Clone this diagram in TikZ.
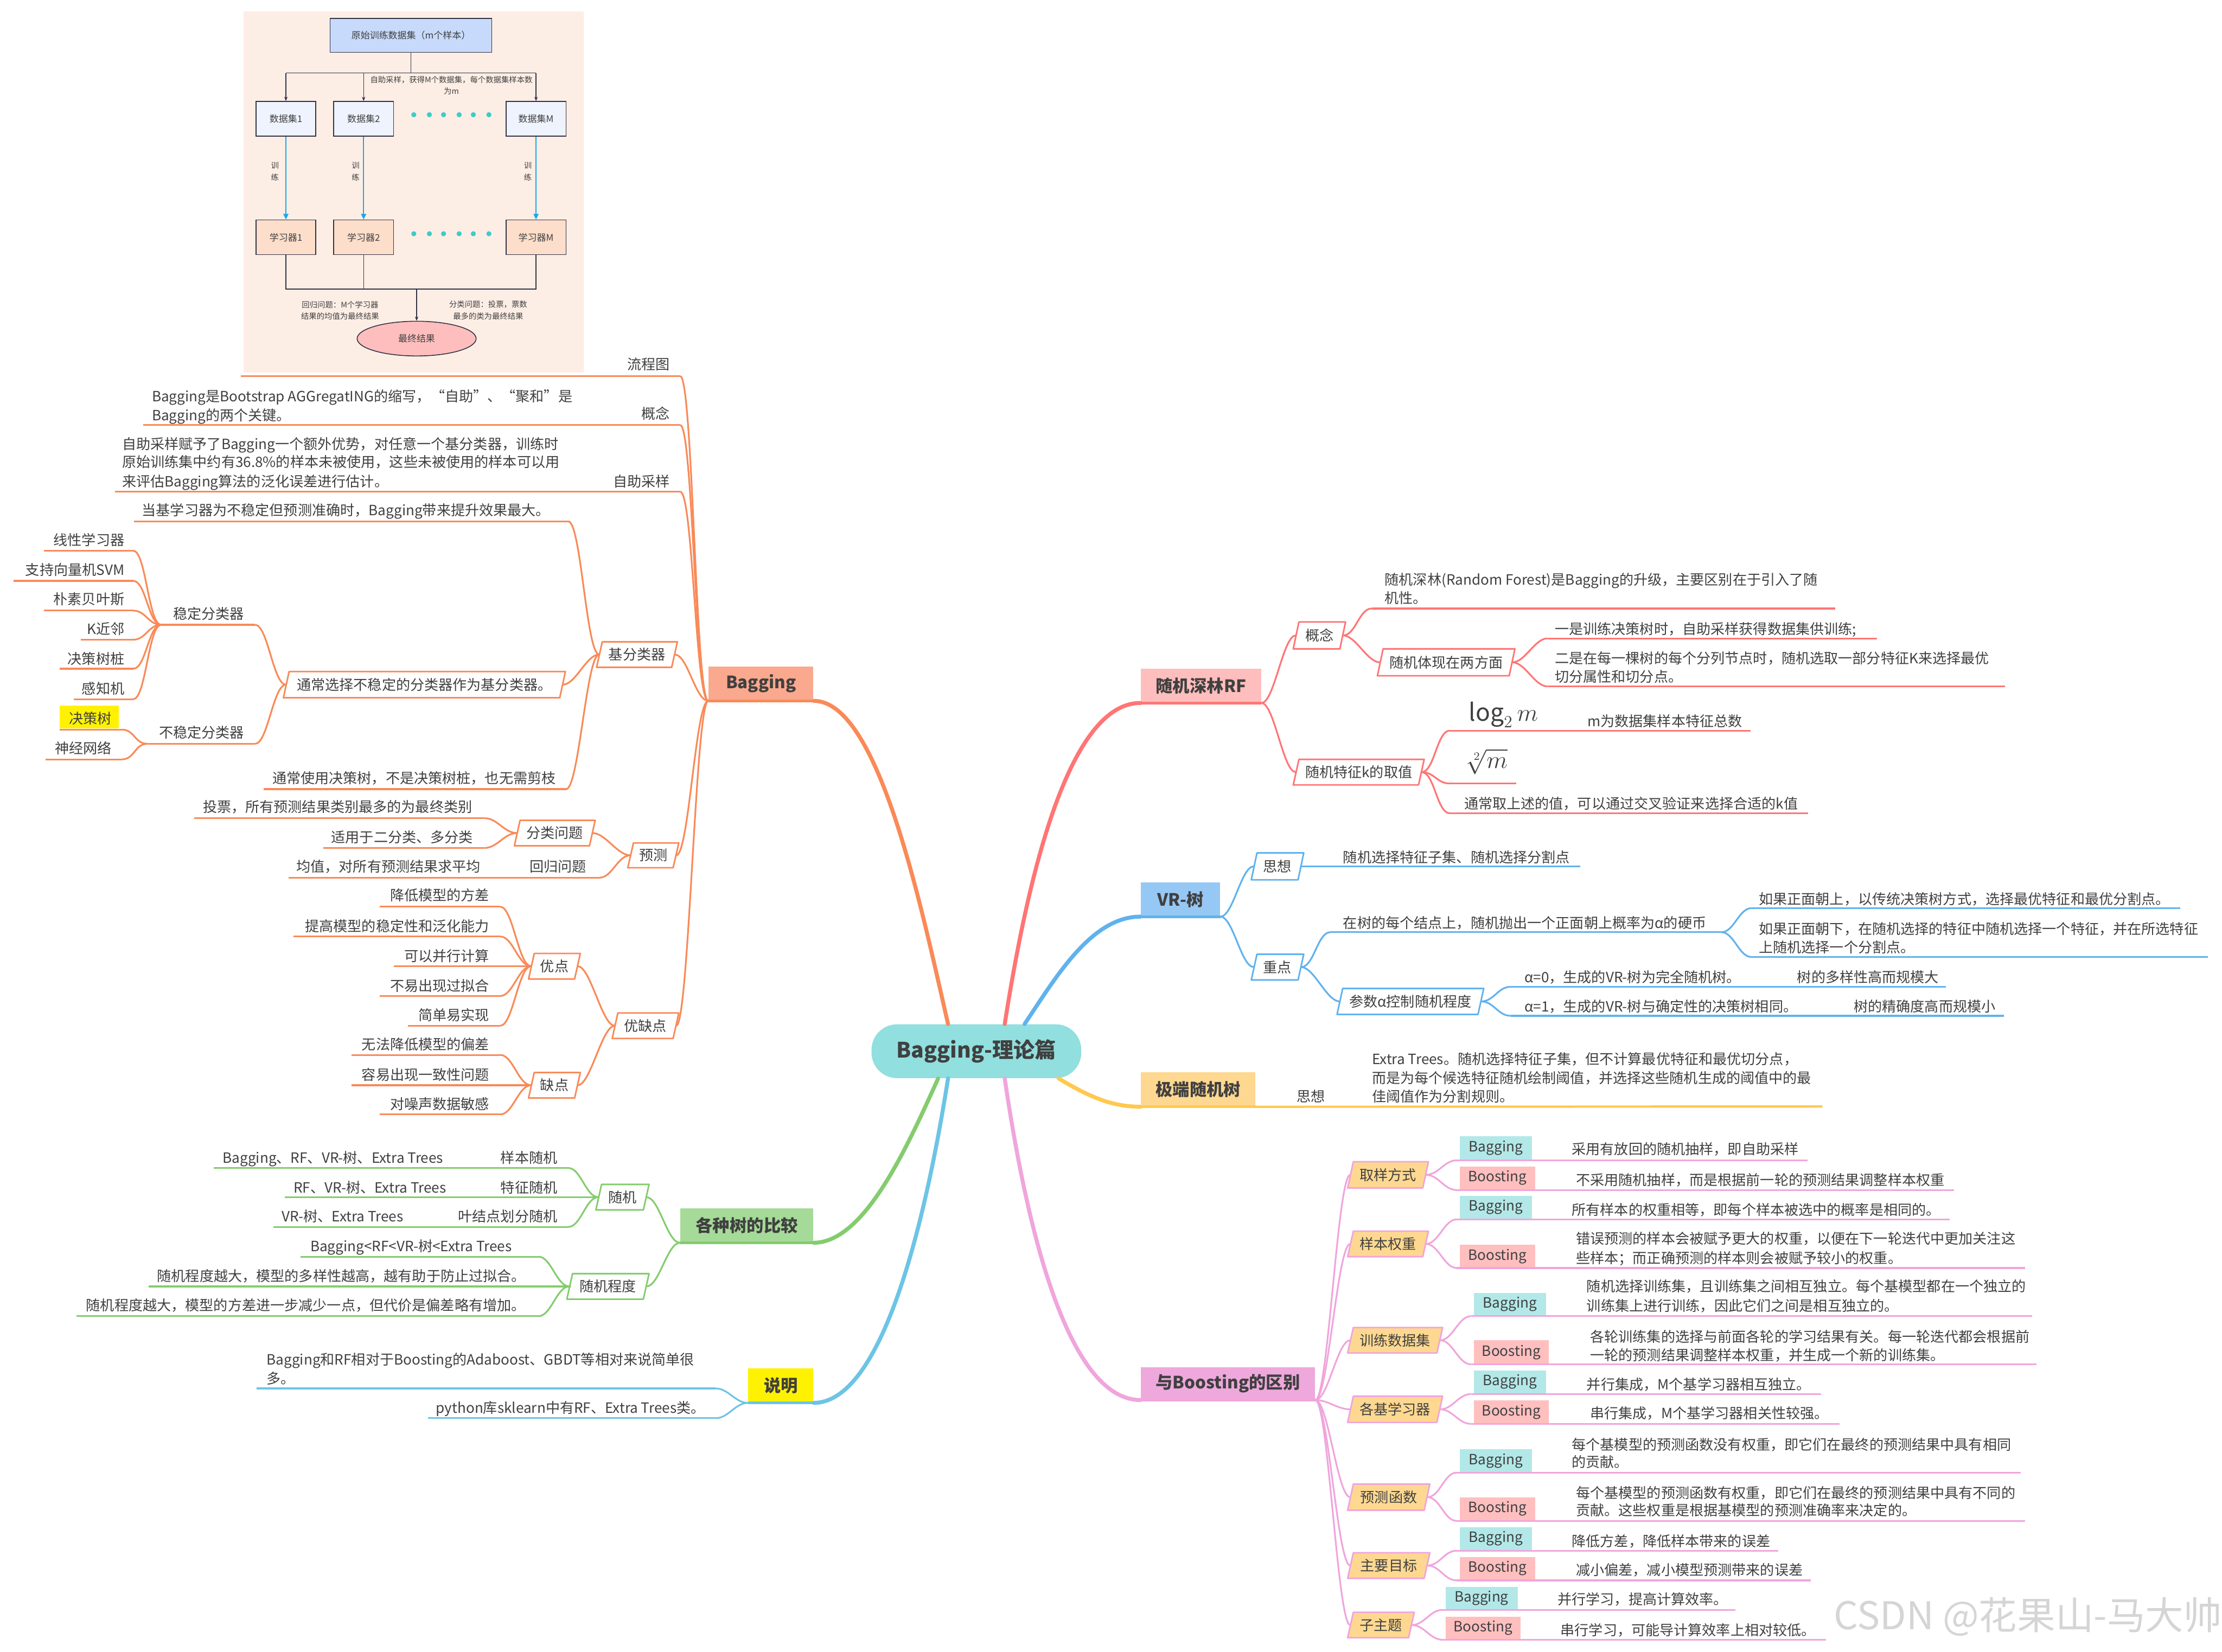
\documentclass[tikz,border=0pt]{standalone}
\usepackage{fontspec}
\setmainfont{Noto Sans CJK SC}
\usetikzlibrary{shapes.geometric,arrows.meta}
\definecolor{txt}{RGB}{64,64,64}
\definecolor{cOr}{RGB}{249,138,88}
\definecolor{fOr}{RGB}{250,168,142}
\definecolor{cRd}{RGB}{255,117,117}
\definecolor{fRd}{RGB}{255,190,190}
\definecolor{cBl}{RGB}{96,178,238}
\definecolor{fBl}{RGB}{150,200,245}
\definecolor{cYe}{RGB}{255,200,80}
\definecolor{fYe}{RGB}{254,216,144}
\definecolor{cPk}{RGB}{240,165,220}
\definecolor{fPk}{RGB}{238,168,220}
\definecolor{cGr}{RGB}{132,204,110}
\definecolor{fGr}{RGB}{165,218,152}
\definecolor{cSk}{RGB}{108,196,230}
\definecolor{fCe}{RGB}{145,223,223}
\definecolor{tagA}{RGB}{179,232,232}
\definecolor{tagB}{RGB}{255,191,191}
\definecolor{fcbg}{RGB}{253,238,229}
\definecolor{fcTop}{RGB}{199,218,251}
\definecolor{fcData}{RGB}{238,243,254}
\definecolor{fcLearn}{RGB}{252,222,202}
\definecolor{fcEnd}{RGB}{255,190,190}
\definecolor{fcLine}{RGB}{50,50,70}
\definecolor{fcArr}{RGB}{26,167,236}
\definecolor{fcDot}{RGB}{60,205,200}
\definecolor{wm}{RGB}{200,200,200}
\newcommand\uln[5]{\draw[#5,line width=1.2pt] (#2,#4) coordinate (#1-w) -- (#3,#4) coordinate (#1-e);}
\newcommand\txw[4]{\node[anchor=base west] (#1) at (#2,#3) {#4};}
\newcommand\txe[4]{\node[anchor=base east] (#1) at (#2,#3) {#4};}
\newcommand\pgram[8]{%
  \fill[#7] (#2,#5) -- ({#4-4},#5) -- (#4,#3) -- ({#2+4},#3) -- cycle;
  \node[minimum width={#4-#2}, minimum height={#5-#3}] (#1) at ({(#2+#4)/2},{(#3+#5)/2}) {#8};
  \draw[#6,line width=1.1pt,line join=round] (#2,#5) -- ({#4-4},#5) -- (#4,#3) -- ({#2+4},#3) -- cycle;
  \coordinate (#1-w) at ([xshift=2pt]#1.west);
  \coordinate (#1-e) at ([xshift=-2pt]#1.east);}
\newcommand\tagbox[7]{\node[fill=#6,minimum width={#4-#2},minimum height={#5-#3}] (#1) at ({(#2+#4)/2},{(#3+#5)/2}) {#7};}
\newcommand\conL[3]{\draw[#3,line width=1.2pt] (#1) .. controls +(-9,0) and +(9,0) .. (#2);}
\newcommand\conR[3]{\draw[#3,line width=1.2pt] (#1) .. controls +(9,0) and +(-9,0) .. (#2);}
\begin{document}
\begin{tikzpicture}[x=1pt,y=-1pt,
  every node/.style={inner sep=0pt,text=txt,font=\fontsize{10}{12}\selectfont},
  mainnode/.style={minimum height=24pt,font=\bfseries\fontsize{12}{14}\selectfont},
  branch/.style={line width=2.8pt,line cap=round},
  fcbox/.style={draw=fcLine,line width=.6pt,minimum width=42.3pt,minimum height=24.4pt,font=\fontsize{6.5}{8}\selectfont},
  fcs/.style={font=\fontsize{5.5}{7}\selectfont},
  fcl/.style={fcLine,line width=.5pt},
  fca/.style={fcLine,line width=.5pt,-{Stealth[length=3pt,width=2.4pt]}},
  fcb/.style={fcArr,line width=.9pt,-{Triangle[length=4pt,width=3.5pt]}}]
\useasboundingbox (0,0) rectangle (1568,1166);
\fill[white] (0,0) rectangle (1568,1166);

% ================= flowchart =================
\fill[fcbg] (172,8) rectangle (412,263);
\node[draw=fcLine,line width=.6pt,fill=fcTop,minimum width=114pt,minimum height=24pt,font=\fontsize{6.5}{8}\selectfont] (orig) at (290,25) {原始训练数据集（m个样本）};
\node[fcbox,fill=fcData] (d1) at (201.75,83.8) {数据集1};
\node[fcbox,fill=fcData] (d2) at (256.6,83.8) {数据集2};
\node[fcbox,fill=fcData] (dM) at (378.25,83.8) {数据集M};
\node[fcbox,fill=fcLearn] (l1) at (201.75,167.5) {学习器1};
\node[fcbox,fill=fcLearn] (l2) at (256.6,167.5) {学习器2};
\node[fcbox,fill=fcLearn] (lM) at (378.25,167.5) {学习器M};
\node[draw=fcLine,line width=.6pt,fill=fcEnd,ellipse,minimum width=84pt,minimum height=24.5pt,font=\fontsize{6.5}{8}\selectfont] (fin) at (294,239) {最终结果};
\coordinate (split) at (290,51.6);
\coordinate (join) at (294,204);
\draw[fcl] (orig.south) -- (split);
\draw[fcl] (d1.north |- split) -- (dM.north |- split);
\draw[fca] (d1.north |- split) -- (d1.north);
\draw[fca] (d2.north |- split) -- (d2.north);
\draw[fca] (dM.north |- split) -- (dM.north);
\draw[fcb] (d1.south) -- (l1.north);
\draw[fcb] (d2.south) -- (l2.north);
\draw[fcb] (dM.south) -- (lM.north);
\draw[fcl] (l1.south) -- (l1.south |- join) -- (lM.south |- join) -- (lM.south);
\draw[fcl] (l2.south) -- (l2.south |- join);
\draw[fca] (join) -- (fin.north);
\foreach \i/\xx in {1/292,2/303,3/313,4/324,5/334,6/345}{
  \fill[fcDot] (\xx,81) circle (1.8);
  \fill[fcDot] (\xx,165) circle (1.8);}
\node[fcs] (fl1) at (318.5,56.5) {自助采样，获得M个数据集，每个数据集样本数};
\node[fcs] (fl2) at (318.5,64.5) {为m};
\node[fcs] (tr1a) at (194,117) {训};
\node[fcs] (tr1b) at (194,125) {练};
\node[fcs] (tr2a) at (251,117) {训};
\node[fcs] (tr2b) at (251,125) {练};
\node[fcs] (tr3a) at (372.5,117) {训};
\node[fcs] (tr3b) at (372.5,125) {练};
\node[fcs] (hg1) at (240,215) {回归问题：M个学习器};
\node[fcs] (hg2) at (240,223) {结果的均值为最终结果};
\node[fcs] (fl3) at (344.5,215) {分类问题：投票，票数};
\node[fcs] (fl4) at (344.5,223) {最多的类为最终结果};

% ================= root and main nodes =================
\node[fill=fCe,rounded corners=18pt,minimum width=148pt,minimum height=38pt,font=\bfseries\fontsize{15}{17}\selectfont] (root) at (689,742) {Bagging-理论篇};
\node[mainnode,fill=fOr,minimum width=74pt] (bag) at (537,482.5) {Bagging};
\node[mainnode,fill=fRd,minimum width=85pt] (rf) at (847.5,484) {随机深林RF};
\node[mainnode,fill=fBl,minimum width=56pt] (vr) at (833,634.8) {VR-树};
\node[mainnode,fill=fYe,minimum width=81pt] (ext) at (845.5,769) {极端随机树};
\node[mainnode,fill=fPk,minimum width=123pt,minimum height=23pt] (bst) at (866.5,976.5) {与Boosting的区别};
\node[mainnode,fill=fGr,minimum width=94pt] (cmp) at (527,865) {各种树的比较};
\node[mainnode,fill=yellow,minimum width=46pt] (sm) at (551,978) {说明};
\draw[cOr,line width=2pt] (bag.south west) -- (bag.south east);
\draw[cRd,line width=2pt] (rf.south west) -- (rf.south east);
\draw[cBl,line width=2pt] (vr.south west) -- (vr.south east);
\draw[cPk,line width=2pt] (bst.south west) -- (bst.south east);
\draw[cGr,line width=2pt] (cmp.south west) -- (cmp.south east);
\draw[cSk,line width=2pt] (sm.south west) -- (sm.south east);

\draw[branch,cOr] ([xshift=-20pt]root.north) .. controls (650,640) and (620,494.6) .. (bag.south east);
\draw[branch,cRd] ([xshift=20pt]root.north) .. controls (722,640) and (750,496) .. (rf.south west);
\draw[branch,cBl] ([xshift=34pt]root.north) .. controls (745,690) and (770,647) .. (vr.south west);
\draw[branch,cYe] ([xshift=58pt]root.south) .. controls (770,775) and (785,781) .. (ext.south west);
\draw[branch,cPk] ([xshift=20pt]root.south) .. controls (722,850) and (750,988) .. (bst.south west);
\draw[branch,cGr] ([xshift=-27pt]root.south) .. controls (640,810) and (610,877) .. (cmp.south east);
\draw[branch,cSk] ([xshift=-20pt]root.south) .. controls (655,850) and (625,990) .. (sm.south east);

% ================= Bagging branch =================
\uln{lct}{170}{480}{265.5}{cOr}
\txe{lctT}{473}{261}{流程图}
\uln{gn}{101}{480}{300}{cOr}
\txw{gn1}{107}{283.3}{Bagging是Bootstrap AGGregatING的缩写，“自助”、“聚和”是}
\txw{gn2}{107}{296.8}{Bagging的两个关键。}
\txe{gnT}{473}{295.8}{概念}
\uln{zz}{81}{480}{347}{cOr}
\txw{zz1}{86}{317.3}{自助采样赋予了Bagging一个额外优势，对任意一个基分类器，训练时}
\txw{zz2}{86}{329.8}{原始训练集中约有36.8\%的样本未被使用，这些未被使用的样本可以用}
\txw{zz3}{86}{343.5}{来评估Bagging算法的泛化误差进行估计。}
\txe{zzT}{473}{343.5}{自助采样}

\pgram{jfl}{421}{453}{478}{471}{cOr}{white}{基分类器}
\uln{dj}{94.5}{401}{368}{cOr}
\txw{djT}{100}{363.8}{当基学习器为不稳定但预测准确时，Bagging带来提升效果最大。}
\pgram{tcxz}{200}{474}{399}{492.5}{cOr}{white}{通常选择不稳定的分类器作为基分类器。}
\uln{tcsy}{186}{399.5}{557}{cOr}
\txw{tcsyT}{192}{552.8}{通常使用决策树，不是决策树桩，也无需剪枝}
\uln{wd}{113.7}{180}{441}{cOr}
\txw{wdT}{122}{436.8}{稳定分类器}
\uln{bwd}{104}{180}{525}{cOr}
\txw{bwdT}{112}{520.8}{不稳定分类器}
\uln{xx}{31}{94}{388.7}{cOr}
\txe{xxT}{88}{384.8}{线性学习器}
\uln{svm}{9.5}{94}{410}{cOr}
\txe{svmT}{88}{405.8}{支持向量机SVM}
\uln{pb}{31}{94}{431}{cOr}
\txe{pbT}{88}{426.8}{朴素贝叶斯}
\uln{knn}{57}{94}{451.5}{cOr}
\txe{knnT}{88}{447.8}{K近邻}
\uln{jczz}{42}{94}{472}{cOr}
\txe{jczzT}{88}{468.8}{决策树桩}
\uln{gzj}{52}{94}{493.5}{cOr}
\txe{gzjT}{88}{489.8}{感知机}
\fill[yellow] (42,498) rectangle (84,514);
\uln{jcs}{42}{86}{515}{cOr}
\txe{jcsT}{79}{510.8}{决策树}
\uln{sjwl}{32}{86}{536}{cOr}
\txe{sjwlT}{79}{531.8}{神经网络}

\pgram{yc}{443}{595}{479}{612.5}{cOr}{white}{预测}
\pgram{flwt}{363}{579}{420}{597}{cOr}{white}{分类问题}
\uln{tp}{137}{342}{577.5}{cOr}
\txw{tpT}{143}{573.3}{投票，所有预测结果类别最多的为最终类别}
\uln{sy}{228}{342}{598.5}{cOr}
\txe{syT}{334}{594.8}{适用于二分类、多分类}
\uln{hg}{203.5}{423}{619.5}{cOr}
\txw{hgT}{209}{615.3}{均值，对所有预测结果求平均}
\txe{hgL}{414}{615.3}{回归问题}

\pgram{yqd}{432}{715}{479}{733}{cOr}{white}{优缺点}
\pgram{yd}{373}{673}{409.5}{691}{cOr}{white}{优点}
\pgram{qd}{373}{757}{409.5}{775}{cOr}{white}{缺点}
\uln{yd1}{268}{353}{640}{cOr}
\txe{yd1T}{345.5}{635.8}{降低模型的方差}
\uln{yd2}{207}{353}{661}{cOr}
\txe{yd2T}{345.5}{657.5}{提高模型的稳定性和泛化能力}
\uln{yd3}{278}{353}{682}{cOr}
\txe{yd3T}{345.5}{678.5}{可以并行计算}
\uln{yd4}{268}{353}{703}{cOr}
\txe{yd4T}{345.5}{699.5}{不易出现过拟合}
\uln{yd5}{288}{353}{724}{cOr}
\txe{yd5T}{345.5}{720.3}{简单易实现}
\uln{qd1}{248}{353}{744.6}{cOr}
\txe{qd1T}{345.5}{741}{无法降低模型的偏差}
\uln{qd2}{248}{353}{766}{cOr}
\txe{qd2T}{345.5}{762.3}{容易出现一致性问题}
\uln{qd3}{268}{353}{786.6}{cOr}
\txe{qd3T}{345.5}{783}{对噪声数据敏感}

\foreach \t in {lct-e,gn-e,zz-e,jfl-e,yc-e,yqd-e}{\conL{bag.south west}{\t}{cOr}}
\foreach \t in {dj-e,tcxz-e,tcsy-e}{\conL{jfl-w}{\t}{cOr}}
\foreach \t in {wd-e,bwd-e}{\conL{tcxz-w}{\t}{cOr}}
\foreach \t in {xx-e,svm-e,pb-e,knn-e,jczz-e,gzj-e}{\conL{wd-w}{\t}{cOr}}
\foreach \t in {jcs-e,sjwl-e}{\conL{bwd-w}{\t}{cOr}}
\foreach \t in {flwt-e,hg-e}{\conL{yc-w}{\t}{cOr}}
\foreach \t in {tp-e,sy-e}{\conL{flwt-w}{\t}{cOr}}
\foreach \t in {yd-e,qd-e}{\conL{yqd-w}{\t}{cOr}}
\foreach \t in {yd1-e,yd2-e,yd3-e,yd4-e,yd5-e}{\conL{yd-w}{\t}{cOr}}
\foreach \t in {qd1-e,qd2-e,qd3-e}{\conL{qd-w}{\t}{cOr}}

% ================= comparison =================
\pgram{sj}{420.5}{836}{458}{854}{cGr}{white}{随机}
\pgram{sjcd}{400}{899}{458}{917}{cGr}{white}{随机程度}
\uln{c1}{151}{401}{824.4}{cGr}
\txw{c1T}{157}{820.8}{Bagging、RF、VR-树、Extra Trees}
\txe{c1L}{393.5}{820.8}{样本随机}
\uln{c2}{201}{401}{845}{cGr}
\txw{c2T}{207}{841.8}{RF、VR-树、Extra Trees}
\txe{c2L}{393.5}{841.8}{特征随机}
\uln{c3}{193}{401}{866}{cGr}
\txw{c3T}{198.7}{862.4}{VR-树、Extra Trees}
\txe{c3L}{393.5}{862.4}{叶结点划分随机}
\uln{c4}{212}{380}{887}{cGr}
\txw{c4T}{218.8}{883.3}{Bagging<RF<VR-树<Extra Trees}
\uln{c5}{105}{400}{908}{cGr}
\txw{c5T}{110.7}{904.5}{随机程度越大，模型的多样性越高，越有助于防止过拟合。}
\uln{c6}{54}{380}{929}{cGr}
\txw{c6T}{60.6}{925.2}{随机程度越大，模型的方差进一步减少一点，但代价是偏差略有增加。}
\foreach \t in {sj-e,sjcd-e}{\conL{cmp.south west}{\t}{cGr}}
\foreach \t in {c1-e,c2-e,c3-e}{\conL{sj-w}{\t}{cGr}}
\foreach \t in {c4-e,c5-e,c6-e}{\conL{sjcd-w}{\t}{cGr}}

% ================= 说明 =================
\uln{s1}{181}{505}{980}{cSk}
\txw{s1a}{188}{963.2}{Bagging和RF相对于Boosting的Adaboost、GBDT等相对来说简单很}
\txw{s1b}{188}{976.8}{多。}
\uln{s2}{302}{505}{1001}{cSk}
\txw{s2T}{307.5}{997.5}{python库sklearn中有RF、Extra Trees类。}
\foreach \t in {s1-e,s2-e}{\conL{sm.south west}{\t}{cSk}}

% ================= RF =================
\pgram{rfgn}{912.6}{439}{949.5}{458}{cRd}{white}{概念}
\pgram{rfsjk}{912.6}{536}{1005}{554}{cRd}{white}{随机特征k的取值}
\pgram{rfsjtx}{972}{458}{1069}{477}{cRd}{white}{随机体现在两方面}
\uln{rf1}{968}{1295}{429.5}{cRd}
\txw{rf1a}{977}{412.8}{随机深林(Random Forest)是Bagging的升级，主要区别在于引入了随}
\txw{rf1b}{977}{425.8}{机性。}
\uln{rf2}{1092}{1324.5}{450.6}{cRd}
\txw{rf2T}{1097}{447.8}{一是训练决策树时，自助采样获得数据集供训练;}
\uln{rf3}{1092}{1415}{484.5}{cRd}
\txw{rf3a}{1097}{468.4}{二是在每一棵树的每个分列节点时，随机选取一部分特征K来选择最优}
\txw{rf3b}{1097}{481.3}{切分属性和切分点。}
\uln{rf4}{1023}{1235.5}{515.7}{cRd}
\node[font=\fontsize{17}{17}\selectfont] (logm) at (1061,504.5) {$\log_2 m$};
\txw{rf4T}{1120}{512.8}{m为数据集样本特征总数}
\uln{rf5}{1023}{1070}{553}{cRd}
\node[font=\fontsize{16}{16}\selectfont] (sqrtm) at (1049.5,537.5) {$\sqrt[2]{m}$};
\uln{rf6}{1023}{1276}{574}{cRd}
\txw{rf6T}{1033}{570.8}{通常取上述的值，可以通过交叉验证来选择合适的k值}
\foreach \t in {rfgn-w,rfsjk-w}{\conR{rf.south east}{\t}{cRd}}
\foreach \t in {rf1-w,rfsjtx-w}{\conR{rfgn-e}{\t}{cRd}}
\foreach \t in {rf2-w,rf3-w}{\conR{rfsjtx-e}{\t}{cRd}}
\foreach \t in {rf4-w,rf5-w,rf6-w}{\conR{rfsjk-e}{\t}{cRd}}

% ================= VR =================
\pgram{vrsx}{883}{602}{920}{621}{cBl}{white}{思想}
\pgram{vrzd}{883}{673.5}{920}{691.7}{cBl}{white}{重点}
\pgram{vrcs}{943.5}{697.7}{1047}{716}{cBl}{white}{参数α控制随机程度}
\uln{vr1}{918}{1115}{611.5}{cBl}
\txw{vr1T}{947.6}{608.8}{随机选择特征子集、随机选择分割点}
\uln{vr2}{938.7}{1214.7}{658}{cBl}
\txw{vr2T}{947.6}{655.3}{在树的每个结点上，随机抛出一个正面朝上概率为α的硬币}
\uln{vr3}{1236}{1538.6}{641}{cBl}
\txw{vr3T}{1241}{638.2}{如果正面朝上，以传统决策树方式，选择最优特征和最优分割点。}
\uln{vr4}{1236}{1558}{675.5}{cBl}
\txw{vr4a}{1241}{659.5}{如果正面朝下，在随机选择的特征中随机选择一个特征，并在所选特征}
\txw{vr4b}{1241}{672.3}{上随机选择一个分割点。}
\uln{vr5}{1066}{1373}{696.5}{cBl}
\txw{vr5T}{1075.6}{693.5}{α=0，生成的VR-树为完全随机树。}
\txw{vr5L}{1268}{693.5}{树的多样性高而规模大}
\uln{vr6}{1066}{1414}{717}{cBl}
\txw{vr6T}{1075.6}{714.3}{α=1，生成的VR-树与确定性的决策树相同。}
\txw{vr6L}{1308}{714.3}{树的精确度高而规模小}
\foreach \t in {vrsx-w,vrzd-w}{\conR{vr.south east}{\t}{cBl}}
\foreach \t in {vr2-w,vrcs-w}{\conR{vrzd-e}{\t}{cBl}}
\foreach \t in {vr3-w,vr4-w}{\conR{vr2-e}{\t}{cBl}}
\foreach \t in {vr5-w,vr6-w}{\conR{vrcs-e}{\t}{cBl}}

% ================= Extra Trees =================
\draw[cYe,line width=2pt] (ext.south west) -- (ext.south east);
\draw[cYe,line width=1.6pt] (ext.south east) -- (1286,781) coordinate (ex-e);
\txw{exL}{915}{777.8}{思想}
\txw{ex1}{968}{751.3}{Extra Trees。随机选择特征子集，但不计算最优特征和最优切分点，}
\txw{ex2}{968}{764.6}{而是为每个候选特征随机绘制阈值，并选择这些随机生成的阈值中的最}
\txw{ex3}{968}{777.8}{佳阈值作为分割规则。}

% ================= Boosting =================
\pgram{b1}{951}{820}{1008}{838.5}{cPk}{fYe}{取样方式}
\pgram{b2}{951}{869}{1008}{887}{cPk}{fYe}{样本权重}
\pgram{b3}{951}{937}{1018}{955}{cPk}{fYe}{训练数据集}
\pgram{b4}{951}{985.5}{1018}{1004}{cPk}{fYe}{各基学习器}
\pgram{b5}{951}{1047.5}{1009}{1066}{cPk}{fYe}{预测函数}
\pgram{b6}{951}{1096}{1009}{1114}{cPk}{fYe}{主要目标}
\pgram{b7}{951}{1138}{998}{1156}{cPk}{fYe}{子主题}

\tagbox{b1a}{1030}{802}{1081}{818.5}{tagA}{Bagging}
\uln{b1A}{1028}{1275.5}{819}{cPk}
\txw{b1AT}{1109}{814.8}{采用有放回的随机抽样，即自助采样}
\tagbox{b1b}{1030}{823.5}{1083.5}{839.5}{tagB}{Boosting}
\uln{b1B}{1028}{1379}{840}{cPk}
\txw{b1BT}{1112}{836.5}{不采用随机抽样，而是根据前一轮的预测结果调整样本权重}

\tagbox{b2a}{1030}{844}{1081}{860}{tagA}{Bagging}
\uln{b2A}{1028}{1376}{860.7}{cPk}
\txw{b2AT}{1109}{857.8}{所有样本的权重相等，即每个样本被选中的概率是相同的。}
\tagbox{b2b}{1030}{878.5}{1083.5}{894.8}{tagB}{Boosting}
\uln{b2B}{1028}{1429}{895}{cPk}
\txw{b2B1}{1112}{877.8}{错误预测的样本会被赋予更大的权重，以便在下一轮迭代中更加关注这}
\txw{b2B2}{1112}{891.6}{些样本；而正确预测的样本则会被赋予较小的权重。}

\tagbox{b3a}{1040}{912.5}{1091}{928.7}{tagA}{Bagging}
\uln{b3A}{1038}{1434}{929}{cPk}
\txw{b3A1}{1119.5}{911.8}{随机选择训练集，且训练集之间相互独立。每个基模型都在一个独立的}
\txw{b3A2}{1119.5}{925.3}{训练集上进行训练，因此它们之间是相互独立的。}
\tagbox{b3b}{1040}{946}{1093}{962.8}{tagB}{Boosting}
\uln{b3B}{1038}{1437}{963}{cPk}
\txw{b3B1}{1122}{947.3}{各轮训练集的选择与前面各轮的学习结果有关。每一轮迭代都会根据前}
\txw{b3B2}{1122}{960.1}{一轮的预测结果调整样本权重，并生成一个新的训练集。}

\tagbox{b4a}{1040}{967.5}{1091}{983.3}{tagA}{Bagging}
\uln{b4A}{1038}{1285}{984}{cPk}
\txw{b4AT}{1119.5}{980.8}{并行集成，M个基学习器相互独立。}
\tagbox{b4b}{1040}{988.5}{1093}{1004.6}{tagB}{Boosting}
\uln{b4B}{1038}{1298}{1005}{cPk}
\txw{b4BT}{1122}{1001.4}{串行集成，M个基学习器相关性较强。}

\tagbox{b5a}{1030}{1023}{1081}{1039}{tagA}{Bagging}
\uln{b5A}{1028}{1426}{1039.4}{cPk}
\txw{b5A1}{1109}{1023.3}{每个基模型的预测函数没有权重，即它们在最终的预测结果中具有相同}
\txw{b5A2}{1109}{1035.8}{的贡献。}
\tagbox{b5b}{1030}{1057}{1083.5}{1073}{tagB}{Boosting}
\uln{b5B}{1028}{1429}{1073.5}{cPk}
\txw{b5B1}{1112}{1057.4}{每个基模型的预测函数有权重，即它们在最终的预测结果中具有不同的}
\txw{b5B2}{1112}{1069.8}{贡献。这些权重是根据基模型的预测准确率来决定的。}

\tagbox{b6a}{1030}{1078}{1081}{1094}{tagA}{Bagging}
\uln{b6A}{1028}{1255}{1094.5}{cPk}
\txw{b6AT}{1109}{1091.5}{降低方差，降低样本带来的误差}
\tagbox{b6b}{1030}{1099}{1083.5}{1115}{tagB}{Boosting}
\uln{b6B}{1028}{1277.7}{1115.5}{cPk}
\txw{b6BT}{1112}{1111.8}{减小偏差，减小模型预测带来的误差}

\tagbox{b7a}{1020}{1120}{1071}{1136}{tagA}{Bagging}
\uln{b7A}{1018}{1224.6}{1136.3}{cPk}
\txw{b7AT}{1099}{1132.5}{并行学习，提高计算效率。}
\tagbox{b7b}{1020}{1141}{1073}{1157}{tagB}{Boosting}
\uln{b7B}{1018}{1288.5}{1157.4}{cPk}
\txw{b7BT}{1101}{1154.5}{串行学习，可能导计算效率上相对较低。}

\foreach \i in {1,...,7}{
  \conR{bst.south east}{b\i-w}{cPk}
  \conR{b\i-e}{b\i A-w}{cPk}
  \conR{b\i-e}{b\i B-w}{cPk}}

% ================= watermark =================
\node[anchor=base west,text=wm,opacity=.75,font=\fontsize{27}{27}\selectfont] (wmk) at (1294,1150) {CSDN @花果山-马大帅};
\end{tikzpicture}
\end{document}
